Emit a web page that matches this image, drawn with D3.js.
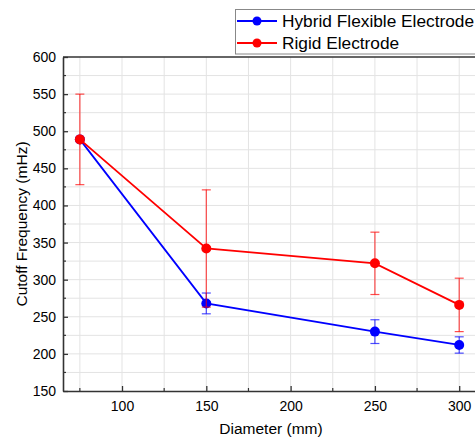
<!DOCTYPE html>
<html><head><meta charset="utf-8">
<script src="https://cdn.jsdelivr.net/npm/d3@7"></script>
<style>body{margin:0;background:#fff;} text{font-family:"Liberation Sans",Arial,sans-serif;}</style>
</head><body><svg id="c" width="475" height="439"></svg>
<script>
const diameters = [75, 150, 250, 300];
const hybridValues = [489, 268, 230, 212];
const hybridErrors = [0, 14, 16, 11];
const rigidValues = [489, 342, 322, 266];
const rigidErrors = [61, 79, 42, 36];
const xTicks = [100, 150, 200, 250, 300];
const yTicks = [150, 200, 250, 300, 350, 400, 450, 500, 550, 600];
const seriesNames = ["Hybrid Flexible Electrode", "Rigid Electrode"];
const colors = ["#0000ff", "#ff0000"];

const svg = d3.select("#c");
const L = 63, T = 57, B = 391;
const x = d3.scaleLinear().domain([65, 310]).range([L, L + (310-65)*84.3/50]);
const y = d3.scaleLinear().domain([150, 600]).range([B, T]);
const R = x(310);

// grid
const gx = d3.range(75, 310, 25), gy = d3.range(175, 600, 25);
svg.append("g").selectAll("line").data(gx).join("line")
  .attr("x1", d=>x(d)).attr("x2", d=>x(d)).attr("y1", T).attr("y2", B)
  .attr("stroke", "#e3e3e3").attr("stroke-width", 1);
svg.append("g").selectAll("line").data(gy).join("line")
  .attr("x1", L).attr("x2", R).attr("y1", d=>y(d)).attr("y2", d=>y(d))
  .attr("stroke", "#e3e3e3").attr("stroke-width", 1);

// axes
const ax = svg.append("g").attr("transform", `translate(0,${B})`)
  .call(d3.axisBottom(x).tickValues(xTicks).tickSize(-5).tickPadding(10).tickSizeOuter(0));
const ay = svg.append("g").attr("transform", `translate(${L},0)`)
  .call(d3.axisLeft(y).tickValues(yTicks).tickSize(-5).tickPadding(7).tickSizeOuter(0));
[ax, ay].forEach(g => {
  g.select(".domain").attr("stroke", "#333").attr("stroke-width", 1.6);
  g.selectAll(".tick line").attr("stroke", "#333").attr("stroke-width", 1.3);
  g.selectAll(".tick text").attr("font-size", 14).attr("fill", "#000")
   .attr("font-family", "Liberation Sans, Arial, sans-serif");
});
// minor ticks
svg.append("g").selectAll("line").data(d3.range(75, 310, 50)).join("line")
  .attr("x1", d=>x(d)).attr("x2", d=>x(d)).attr("y1", B).attr("y2", B-3)
  .attr("stroke", "#333").attr("stroke-width", 1.2);
svg.append("g").selectAll("line").data(d3.range(175, 600, 50)).join("line")
  .attr("x1", L).attr("x2", L+3).attr("y1", d=>y(d)).attr("y2", d=>y(d))
  .attr("stroke", "#333").attr("stroke-width", 1.2);
// top border
svg.append("line").attr("x1", L).attr("x2", R).attr("y1", T).attr("y2", T)
  .attr("stroke", "#333").attr("stroke-width", 1.6);

// titles
svg.append("text").attr("x", 271).attr("y", 434).attr("text-anchor", "middle")
  .attr("font-size", 15.5).text("Diameter (mm)");
svg.append("text").attr("transform", `translate(27,${(T+B)/2}) rotate(-90)`)
  .attr("text-anchor", "middle").attr("font-size", 15.5).text("Cutoff Frequency (mHz)");

// series
const series = [
  {vals: hybridValues, errs: hybridErrors, color: colors[0]},
  {vals: rigidValues, errs: rigidErrors, color: colors[1]}
];
const line = d3.line().x(d=>x(d[0])).y(d=>y(d[1]));
series.forEach(s => {
  const pts = diameters.map((d,i)=>[d, s.vals[i], s.errs[i]]);
  const eg = svg.append("g").attr("stroke", s.color).attr("stroke-opacity", 0.7).attr("stroke-width", 1.2);
  pts.filter(p=>p[2]>0).forEach(p => {
    eg.append("line").attr("x1", x(p[0])).attr("x2", x(p[0])).attr("y1", y(p[1]-p[2])).attr("y2", y(p[1]+p[2]));
    [p[1]-p[2], p[1]+p[2]].forEach(v => eg.append("line")
      .attr("x1", x(p[0])-4.5).attr("x2", x(p[0])+4.5).attr("y1", y(v)).attr("y2", y(v)));
  });
  svg.append("path").datum(pts).attr("d", line).attr("fill", "none")
    .attr("stroke", s.color).attr("stroke-width", 1.8);
  svg.append("g").selectAll("circle").data(pts).join("circle")
    .attr("cx", d=>x(d[0])).attr("cy", d=>y(d[1])).attr("r", 5).attr("fill", s.color);
});

// legend
const lg = svg.append("g");
lg.append("rect").attr("x", 235.5).attr("y", 9.5).attr("width", 260).attr("height", 44.5)
  .attr("fill", "#fff").attr("stroke", "#888").attr("stroke-width", 1);
seriesNames.forEach((n,i) => {
  const yy = 21 + i*22;
  lg.append("line").attr("x1", 237).attr("x2", 277).attr("y1", yy).attr("y2", yy)
    .attr("stroke", colors[i]).attr("stroke-width", 1.8);
  lg.append("circle").attr("cx", 257).attr("cy", yy).attr("r", 4.5).attr("fill", colors[i]);
  lg.append("text").attr("x", 282).attr("y", yy + 6).attr("font-size", 17.3).text(n);
});
</script></body></html>
